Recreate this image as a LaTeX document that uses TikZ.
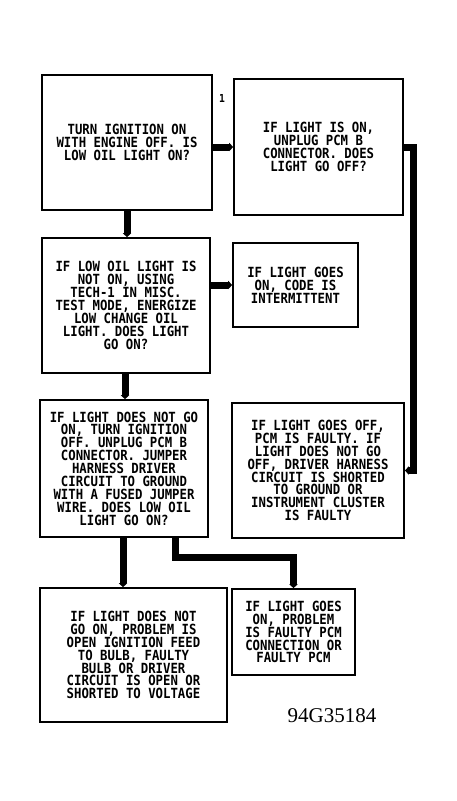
\documentclass[tikz,border=0pt]{standalone}
\usepackage{fontspec}
\setmainfont{Liberation Serif}
\newfontfamily\plotfont[FakeStretch=0.88]{DejaVu Sans Mono}
\usetikzlibrary{arrows.meta}
\tikzset{
  box/.style={draw, line width=1.6pt, rectangle, inner sep=0pt,
    font=\plotfont\bfseries\fontsize{14}{12.9}\selectfont, align=center},
  conn/.style={line width=7pt, line join=miter, -{Triangle[length=4pt,width=8pt]}},
}
\begin{document}
\begin{tikzpicture}[x=1pt,y=-1pt]
\useasboundingbox (0,0) rectangle (456,801);
\fill[white] (0,0) rectangle (456,801);
\node[box, minimum width=170pt, minimum height=135pt] (b1) at (127,142.5)
  {TURN IGNITION ON\\WITH ENGINE OFF. IS\\LOW OIL LIGHT ON?};
\node[box, minimum width=169pt, minimum height=136pt] (b2) at (318.5,147)
  {IF LIGHT IS ON,\\UNPLUG PCM B\\CONNECTOR. DOES\\LIGHT GO OFF?};
\node[box, minimum width=168pt, minimum height=135pt] (b3) at (126,305.5)
  {IF LOW OIL LIGHT IS\\NOT ON, USING\\TECH-1 IN MISC.\\TEST MODE, ENERGIZE\\LOW CHANGE OIL\\LIGHT. DOES LIGHT\\GO ON?};
\node[box, minimum width=125pt, minimum height=84pt] (b4) at (295.5,285)
  {IF LIGHT GOES\\ON, CODE IS\\INTERMITTENT};
\node[box, minimum width=168pt, minimum height=137pt] (b5) at (124,468.5)
  {IF LIGHT DOES NOT GO\\ON, TURN IGNITION\\OFF. UNPLUG PCM B\\CONNECTOR. JUMPER\\HARNESS DRIVER\\CIRCUIT TO GROUND\\WITH A FUSED JUMPER\\WIRE. DOES LOW OIL\\LIGHT GO ON?};
\node[box, minimum width=172pt, minimum height=135pt] (b6) at (318,470.5)
  {IF LIGHT GOES OFF,\\PCM IS FAULTY. IF\\LIGHT DOES NOT GO\\OFF, DRIVER HARNESS\\CIRCUIT IS SHORTED\\TO GROUND OR\\INSTRUMENT CLUSTER\\IS FAULTY};
\node[box, minimum width=187pt, minimum height=134pt] (b7) at (133.5,655)
  {IF LIGHT DOES NOT\\GO ON, PROBLEM IS\\OPEN IGNITION FEED\\TO BULB, FAULTY\\BULB OR DRIVER\\CIRCUIT IS OPEN OR\\SHORTED TO VOLTAGE};
\node[box, minimum width=123pt, minimum height=86pt] (b8) at (293.5,632)
  {IF LIGHT GOES\\ON, PROBLEM\\IS FAULTY PCM\\CONNECTION OR\\FAULTY PCM};
\node[font=\plotfont\bfseries\fontsize{11}{11}\selectfont] (one) at (222,98) {1};
\node[font=\fontsize{21}{21}\selectfont] (fig) at (332,716) {94G35184};
\coordinate (r) at (413,0);
\coordinate (j) at (175,557);
\coordinate (c1) at (125,0);
\coordinate (c2) at (123,0);
\draw[conn] (b1.south) -- (b1.south |- b3.north);
\draw[conn] (c1 |- b3.south) -- (c1 |- b5.north);
\draw[conn] (c2 |- b5.south) -- (c2 |- b7.north);
\draw[conn] (j |- b5.south) -- (j) -| (b8.north);
\draw[conn] (b1.east |- b2.west) -- (b2.west);
\draw[conn] (b3.east |- b4.west) -- (b4.west);
\draw[conn] (b2.east) -- (b2.east -| r) |- (b6.east);
\end{tikzpicture}
\end{document}
